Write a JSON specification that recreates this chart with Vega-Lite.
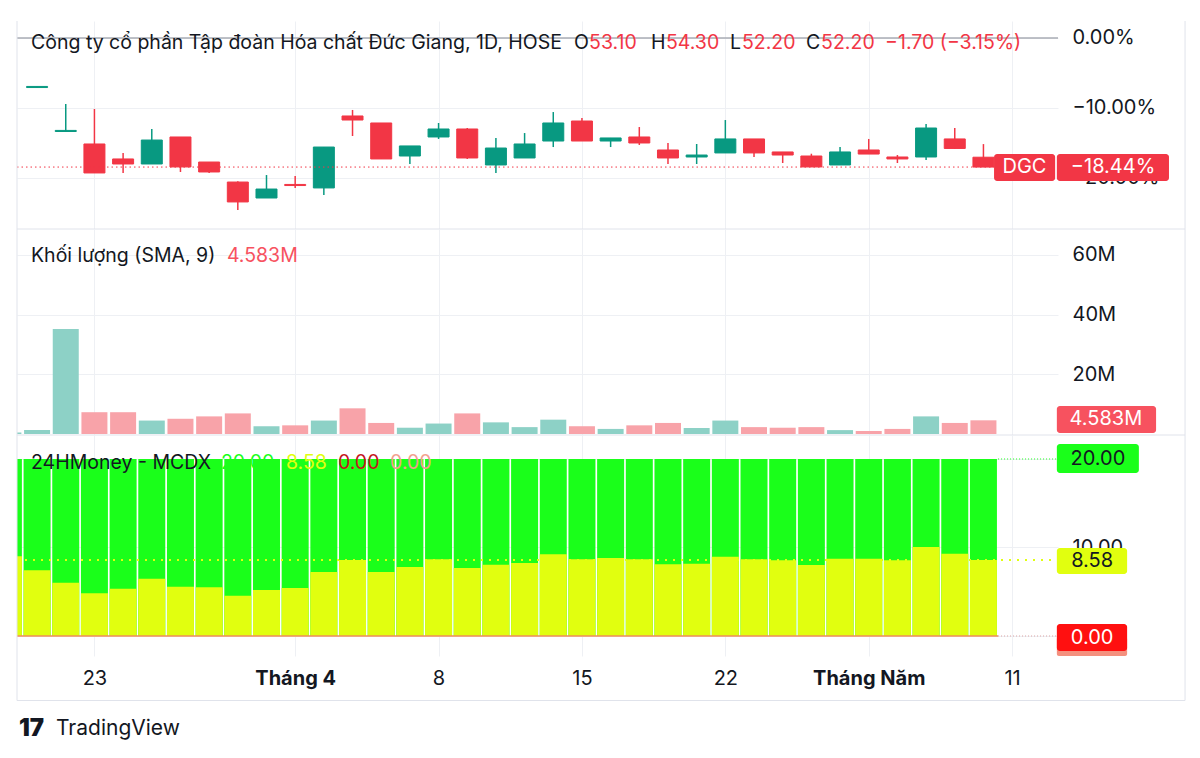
{
"$schema": "https://vega.github.io/schema/vega-lite/v6.json",
"padding": {"left": 16, "top": 20, "right": 10, "bottom": 10},
"background": "white",
"spacing": 0,
"bounds": "flush",
"config": {"view": {"stroke": null}, "font": "Inter", "axis": {"labelFont": "Inter", "labelColor": "#131722", "labelFontSize": 20, "gridColor": "#eef0f4", "gridWidth": 1, "domain": false, "ticks": false}, "text": {"font": "Inter"}},
"datasets": {"d": [
{"i": -1, "v": 0.5, "m": 9.0},
{"i": 0, "o": 59.47, "h": 59.57, "l": 59.47, "c": 59.57, "v": 1.3, "m": 7.42},
{"i": 1, "o": 55.45, "h": 57.97, "l": 55.45, "c": 55.55, "v": 35.2, "m": 6.03},
{"i": 2, "o": 54.31, "h": 57.51, "l": 51.66, "c": 51.66, "v": 7.3, "m": 4.82},
{"i": 3, "o": 52.94, "h": 53.49, "l": 51.66, "c": 52.48, "v": 7.3, "m": 5.35},
{"i": 4, "o": 52.48, "h": 55.68, "l": 52.48, "c": 54.67, "v": 4.5, "m": 6.48},
{"i": 5, "o": 54.95, "h": 54.95, "l": 51.75, "c": 52.21, "v": 5.1, "m": 5.57},
{"i": 6, "o": 52.66, "h": 52.66, "l": 51.66, "c": 51.75, "v": 5.9, "m": 5.5},
{"i": 7, "o": 50.83, "h": 50.9, "l": 48.27, "c": 49.01, "v": 6.9, "m": 4.56},
{"i": 8, "o": 49.37, "h": 51.47, "l": 49.37, "c": 50.19, "v": 2.6, "m": 5.2},
{"i": 9, "o": 50.61, "h": 51.38, "l": 50.29, "c": 50.51, "v": 2.9, "m": 5.42},
{"i": 10, "o": 50.29, "h": 54.03, "l": 49.65, "c": 54.03, "v": 4.5, "m": 7.23},
{"i": 11, "o": 56.87, "h": 57.42, "l": 55.04, "c": 56.5, "v": 8.6, "m": 8.59},
{"i": 12, "o": 56.23, "h": 56.23, "l": 52.94, "c": 52.94, "v": 3.7, "m": 7.23},
{"i": 13, "o": 53.21, "h": 54.13, "l": 52.48, "c": 54.13, "v": 2.1, "m": 7.8},
{"i": 14, "o": 54.95, "h": 56.23, "l": 54.77, "c": 55.68, "v": 3.5, "m": 8.66},
{"i": 15, "o": 55.68, "h": 55.77, "l": 52.94, "c": 53.03, "v": 6.9, "m": 7.68},
{"i": 16, "o": 52.39, "h": 54.86, "l": 51.66, "c": 53.94, "v": 3.9, "m": 8.06},
{"i": 17, "o": 53.03, "h": 55.31, "l": 53.03, "c": 54.31, "v": 2.3, "m": 8.25},
{"i": 18, "o": 54.58, "h": 57.23, "l": 54.03, "c": 56.23, "v": 4.8, "m": 9.23},
{"i": 19, "o": 56.41, "h": 56.69, "l": 54.58, "c": 54.58, "v": 2.6, "m": 8.66},
{"i": 20, "o": 54.58, "h": 54.86, "l": 54.03, "c": 54.86, "v": 1.7, "m": 8.81},
{"i": 21, "o": 54.95, "h": 55.86, "l": 54.22, "c": 54.4, "v": 2.9, "m": 8.66},
{"i": 22, "o": 53.76, "h": 54.4, "l": 52.48, "c": 53.03, "v": 3.7, "m": 8.1},
{"i": 23, "o": 53.12, "h": 54.31, "l": 52.48, "c": 53.3, "v": 2.0, "m": 8.17},
{"i": 24, "o": 53.49, "h": 56.5, "l": 53.49, "c": 54.77, "v": 4.5, "m": 8.96},
{"i": 25, "o": 54.77, "h": 54.77, "l": 53.12, "c": 53.49, "v": 2.3, "m": 8.66},
{"i": 26, "o": 53.58, "h": 53.58, "l": 52.57, "c": 53.3, "v": 2.1, "m": 8.55},
{"i": 27, "o": 53.21, "h": 53.42, "l": 52.21, "c": 52.21, "v": 2.3, "m": 8.02},
{"i": 28, "o": 52.39, "h": 54.03, "l": 52.39, "c": 53.58, "v": 1.3, "m": 8.74},
{"i": 29, "o": 53.76, "h": 54.77, "l": 53.39, "c": 53.39, "v": 1.0, "m": 8.74},
{"i": 30, "o": 53.12, "h": 53.3, "l": 52.57, "c": 52.94, "v": 1.7, "m": 8.55},
{"i": 31, "o": 53.12, "h": 56.14, "l": 52.85, "c": 55.77, "v": 5.9, "m": 10.06},
{"i": 32, "o": 54.77, "h": 55.77, "l": 53.85, "c": 53.9, "v": 3.7, "m": 9.3},
{"i": 33, "o": 53.1, "h": 54.3, "l": 52.2, "c": 52.2, "v": 4.583, "m": 8.58}
]},
"vconcat": [
{
"width": 1041, "height": 208,
"data": {"name": "d"},
"layer": [
{"data": {"values": [{}]}, "mark": {"type": "rule", "color": "#a9acb4", "strokeWidth": 1.5}, "encoding": {"y": {"datum": 64}}},
{"transform": [{"filter": "isValid(datum.o)"}],
 "mark": {"type": "rule", "strokeWidth": 1.5},
 "encoding": {
  "x": {"field": "i", "type": "quantitative", "scale": {"domain": [-0.7, 35.6], "nice": false, "zero": false, "padding": 0}, "axis": {"values": [2, 9, 14, 19, 24, 29, 34], "labels": false, "grid": true, "title": null}},
  "y": {"field": "l", "type": "quantitative", "scale": {"domain": [46.537, 65.554], "nice": false, "zero": false, "padding": 0}, "axis": {"orient": "right", "values": [64, 57.6, 51.2], "labelExpr": "replace(format((datum.value/64-1)*100, '.2f'), '-', '−') + '%'", "title": null, "grid": true, "labelPadding": 14}},
  "y2": {"field": "h"},
  "color": {"condition": {"test": "datum.c >= datum.o", "value": "#089981"}, "value": "#f23645"}
 }},
{"transform": [{"filter": "isValid(datum.o)"}],
 "mark": {"type": "bar", "size": 21, "strokeWidth": 1},
 "encoding": {
  "x": {"field": "i", "type": "quantitative"},
  "y": {"field": "o", "type": "quantitative"},
  "y2": {"field": "c"},
  "color": {"condition": {"test": "datum.c >= datum.o", "value": "#089981"}, "value": "#f23645"},
  "stroke": {"condition": {"test": "datum.c >= datum.o", "value": "#089981"}, "value": "#f23645"}
 }},
{"data": {"values": [{}]}, "mark": {"type": "rule", "color": "#f23645", "strokeWidth": 1, "strokeDash": [1.5, 3]}, "encoding": {"x": {"datum": -0.7}, "x2": {"datum": 33.37}, "y": {"datum": 52.2}}},
{"data": {"values": [{}]}, "mark": {"type": "rect", "color": "#f23645", "cornerRadius": 3}, "encoding": {"x": {"datum": 33.37}, "x2": {"datum": 35.5}, "y": {"datum": 53.394}, "y2": {"datum": 50.926}}},
{"data": {"values": [{}]}, "mark": {"type": "rect", "color": "#f23645", "cornerRadius": 3}, "encoding": {"x": {"datum": 35.56}, "x2": {"datum": 39.47}, "y": {"datum": 53.394}, "y2": {"datum": 50.926}}},
{"data": {"values": [{"t": "DGC"}]}, "mark": {"type": "text", "color": "white", "fontSize": 20, "align": "center", "baseline": "middle"}, "encoding": {"x": {"datum": 34.43}, "y": {"datum": 52.16}, "text": {"field": "t"}}},
{"data": {"values": [{"t": "−18.44%"}]}, "mark": {"type": "text", "color": "white", "fontSize": 20, "align": "center", "baseline": "middle"}, "encoding": {"x": {"datum": 37.52}, "y": {"datum": 52.16}, "text": {"field": "t"}}},
{"data": {"values": [{"t": "Công ty cổ phần Tập đoàn Hóa chất Đức Giang, 1D, HOSE"}]}, "mark": {"type": "text", "color": "#131722", "fontSize": 19.5, "align": "left", "baseline": "middle"}, "encoding": {"x": {"datum": -0.212}, "y": {"datum": 63.54}, "text": {"field": "t"}}},
{"data": {"values": [{"t": "O"}]}, "mark": {"type": "text", "color": "#131722", "fontSize": 19.5, "align": "left", "baseline": "middle"}, "encoding": {"x": {"datum": 18.72}, "y": {"datum": 63.54}, "text": {"field": "t"}}},
{"data": {"values": [{"t": "53.10"}]}, "mark": {"type": "text", "color": "#f23645", "fontSize": 19.5, "align": "left", "baseline": "middle"}, "encoding": {"x": {"datum": 19.25}, "y": {"datum": 63.54}, "text": {"field": "t"}}},
{"data": {"values": [{"t": "H"}]}, "mark": {"type": "text", "color": "#131722", "fontSize": 19.5, "align": "left", "baseline": "middle"}, "encoding": {"x": {"datum": 21.41}, "y": {"datum": 63.54}, "text": {"field": "t"}}},
{"data": {"values": [{"t": "54.30"}]}, "mark": {"type": "text", "color": "#f23645", "fontSize": 19.5, "align": "left", "baseline": "middle"}, "encoding": {"x": {"datum": 21.93}, "y": {"datum": 63.54}, "text": {"field": "t"}}},
{"data": {"values": [{"t": "L"}]}, "mark": {"type": "text", "color": "#131722", "fontSize": 19.5, "align": "left", "baseline": "middle"}, "encoding": {"x": {"datum": 24.16}, "y": {"datum": 63.54}, "text": {"field": "t"}}},
{"data": {"values": [{"t": "52.20"}]}, "mark": {"type": "text", "color": "#f23645", "fontSize": 19.5, "align": "left", "baseline": "middle"}, "encoding": {"x": {"datum": 24.58}, "y": {"datum": 63.54}, "text": {"field": "t"}}},
{"data": {"values": [{"t": "C"}]}, "mark": {"type": "text", "color": "#131722", "fontSize": 19.5, "align": "left", "baseline": "middle"}, "encoding": {"x": {"datum": 26.81}, "y": {"datum": 63.54}, "text": {"field": "t"}}},
{"data": {"values": [{"t": "52.20"}]}, "mark": {"type": "text", "color": "#f23645", "fontSize": 19.5, "align": "left", "baseline": "middle"}, "encoding": {"x": {"datum": 27.34}, "y": {"datum": 63.54}, "text": {"field": "t"}}},
{"data": {"values": [{"t": "−1.70 (−3.15%)"}]}, "mark": {"type": "text", "color": "#f23645", "fontSize": 19.5, "align": "left", "baseline": "middle"}, "encoding": {"x": {"datum": 29.57}, "y": {"datum": 63.54}, "text": {"field": "t"}}},
{"data": {"values": [{}]}, "mark": {"type": "rule", "color": "#e0e3eb", "strokeWidth": 1}, "encoding": {"x": {"datum": -0.7}, "y": {"datum": 46.537}, "y2": {"datum": 65.554}}},
{"data": {"values": [{}]}, "mark": {"type": "rule", "color": "#e0e3eb", "strokeWidth": 1}, "encoding": {"x": {"datum": 40.03}, "y": {"datum": 46.537}, "y2": {"datum": 65.554}}},
{"data": {"values": [{}]}, "mark": {"type": "rule", "color": "#e0e3eb", "strokeWidth": 1}, "encoding": {"x": {"datum": -0.7}, "x2": {"datum": 40.03}, "y": {"datum": 46.537}}}
]
},
{
"width": 1041, "height": 206,
"data": {"name": "d"},
"layer": [
{"mark": {"type": "bar", "size": 26, "clip": true},
 "encoding": {
  "x": {"field": "i", "type": "quantitative", "scale": {"domain": [-0.7, 35.6], "nice": false, "zero": false, "padding": 0}, "axis": {"values": [2, 9, 14, 19, 24, 29, 34], "labels": false, "grid": true, "title": null}},
  "y": {"field": "v", "type": "quantitative", "scale": {"domain": [-0.34, 68.71], "nice": false, "zero": false, "padding": 0}, "axis": {"orient": "right", "values": [20, 40, 60], "labelExpr": "datum.value + 'M'", "title": null, "grid": true, "labelPadding": 14}},
  "y2": {"datum": 0},
  "color": {"condition": {"test": "!(datum.c < datum.o)", "value": "#8dd1c6"}, "value": "#f8a3a9"}
 }},
{"data": {"values": [{}]}, "mark": {"type": "rect", "color": "#f7525f", "cornerRadius": 3}, "encoding": {"x": {"datum": 35.56}, "x2": {"datum": 39.02}, "y": {"datum": 9.39}, "y2": {"datum": 0.34}}},
{"data": {"values": [{"t": "4.583M"}]}, "mark": {"type": "text", "color": "white", "fontSize": 20, "align": "center", "baseline": "middle"}, "encoding": {"x": {"datum": 37.27}, "y": {"datum": 4.86}, "text": {"field": "t"}}},
{"data": {"values": [{"t": "Khối lượng (SMA, 9)"}]}, "mark": {"type": "text", "color": "#131722", "fontSize": 19.5, "align": "left", "baseline": "middle"}, "encoding": {"x": {"datum": -0.212}, "y": {"datum": 59.6}, "text": {"field": "t"}}},
{"data": {"values": [{"t": "4.583M"}]}, "mark": {"type": "text", "color": "#f7525f", "fontSize": 19.5, "align": "left", "baseline": "middle"}, "encoding": {"x": {"datum": 6.62}, "y": {"datum": 59.6}, "text": {"field": "t"}}},
{"data": {"values": [{}]}, "mark": {"type": "rule", "color": "#e0e3eb", "strokeWidth": 1}, "encoding": {"x": {"datum": -0.7}, "y": {"datum": -0.34}, "y2": {"datum": 68.71}}},
{"data": {"values": [{}]}, "mark": {"type": "rule", "color": "#e0e3eb", "strokeWidth": 1}, "encoding": {"x": {"datum": 40.03}, "y": {"datum": -0.34}, "y2": {"datum": 68.71}}},
{"data": {"values": [{}]}, "mark": {"type": "rule", "color": "#e0e3eb", "strokeWidth": 1}, "encoding": {"x": {"datum": -0.7}, "x2": {"datum": 40.03}, "y": {"datum": -0.34}}}
]
},
{
"width": 1041, "height": 221,
"data": {"name": "d"},
"layer": [
{"mark": {"type": "bar", "size": 27, "clip": true, "color": "#1aff1a"},
 "encoding": {
  "x": {"field": "i", "type": "quantitative", "scale": {"domain": [-0.7, 35.6], "nice": false, "zero": false, "padding": 0}, "axis": {"values": [2, 9, 14, 19, 24, 29, 34], "grid": true, "title": null, "labelPadding": 12, "labelExpr": "datum.value == 2 ? '23' : datum.value == 9 ? 'Tháng 4' : datum.value == 14 ? '8' : datum.value == 19 ? '15' : datum.value == 24 ? '22' : datum.value == 29 ? 'Tháng Năm' : '11'", "labelFontWeight": {"condition": {"test": "datum.value == 9 || datum.value == 29", "value": "bold"}, "value": "normal"}}},
  "y": {"datum": 20, "type": "quantitative", "scale": {"domain": [-2.26, 22.71], "nice": false, "zero": false, "padding": 0}, "axis": {"orient": "right", "values": [0, 10, 20], "labelExpr": "format(datum.value, '.2f')", "title": null, "grid": true, "labelPadding": 14}},
  "y2": {"datum": 0}
 }},
{"mark": {"type": "bar", "size": 27, "clip": true, "color": "#e1ff0f"},
 "encoding": {
  "x": {"field": "i", "type": "quantitative"},
  "y": {"field": "m", "type": "quantitative"},
  "y2": {"datum": 0}
 }},
{"data": {"values": [{}]}, "mark": {"type": "rule", "color": "#ef8f5a", "strokeWidth": 1.5}, "encoding": {"x": {"datum": -0.7}, "x2": {"datum": 33.51}, "y": {"datum": 0}}},
{"data": {"values": [{}]}, "mark": {"type": "rule", "color": "#d9a0a0", "strokeWidth": 1, "strokeDash": [1, 2]}, "encoding": {"x": {"datum": 33.51}, "x2": {"datum": 35.56}, "y": {"datum": 0}}},
{"data": {"values": [{}]}, "mark": {"type": "rule", "color": "#1aff1a", "strokeWidth": 1, "strokeDash": [1, 2]}, "encoding": {"x": {"datum": 33.51}, "x2": {"datum": 35.56}, "y": {"datum": 20}}},
{"data": {"values": [{}]}, "mark": {"type": "rule", "color": "#e1ff0f", "strokeWidth": 2, "strokeDash": [2, 6]}, "encoding": {"x": {"datum": -0.7}, "x2": {"datum": 35.56}, "y": {"datum": 8.58}}},
{"data": {"values": [{}]}, "mark": {"type": "rect", "color": "#f4907e", "cornerRadius": 2}, "encoding": {"x": {"datum": 35.56}, "x2": {"datum": 38.01}, "y": {"datum": -0.11}, "y2": {"datum": -2.26}}},
{"data": {"values": [{}]}, "mark": {"type": "rect", "color": "#ff1010", "cornerRadius": 3}, "encoding": {"x": {"datum": 35.56}, "x2": {"datum": 38.01}, "y": {"datum": 1.36}, "y2": {"datum": -1.69}}},
{"data": {"values": [{}]}, "mark": {"type": "rect", "color": "#e1ff0f", "cornerRadius": 3}, "encoding": {"x": {"datum": 35.56}, "x2": {"datum": 38.01}, "y": {"datum": 9.94}, "y2": {"datum": 7.01}}},
{"data": {"values": [{}]}, "mark": {"type": "rect", "color": "#1aff1a", "cornerRadius": 3}, "encoding": {"x": {"datum": 35.56}, "x2": {"datum": 38.42}, "y": {"datum": 21.69}, "y2": {"datum": 18.42}}},
{"data": {"values": [{"t": "0.00"}]}, "mark": {"type": "text", "color": "white", "fontSize": 20, "align": "center", "baseline": "middle"}, "encoding": {"x": {"datum": 36.79}, "y": {"datum": -0.17}, "text": {"field": "t"}}},
{"data": {"values": [{"t": "8.58"}]}, "mark": {"type": "text", "color": "#131722", "fontSize": 20, "align": "center", "baseline": "middle"}, "encoding": {"x": {"datum": 36.79}, "y": {"datum": 8.47}, "text": {"field": "t"}}},
{"data": {"values": [{"t": "20.00"}]}, "mark": {"type": "text", "color": "#131722", "fontSize": 20, "align": "center", "baseline": "middle"}, "encoding": {"x": {"datum": 36.99}, "y": {"datum": 20.0}, "text": {"field": "t"}}},
{"data": {"values": [{"t": "24HMoney - MCDX"}]}, "mark": {"type": "text", "color": "#131722", "fontSize": 19.5, "align": "left", "baseline": "middle"}, "encoding": {"x": {"datum": -0.212}, "y": {"datum": 19.49}, "text": {"field": "t"}}},
{"data": {"values": [{"t": "20.00"}]}, "mark": {"type": "text", "color": "#1aff1a", "fontSize": 19.5, "align": "left", "baseline": "middle"}, "encoding": {"x": {"datum": 6.41}, "y": {"datum": 19.49}, "text": {"field": "t"}}},
{"data": {"values": [{"t": "8.58"}]}, "mark": {"type": "text", "color": "#e1ff0f", "fontSize": 19.5, "align": "left", "baseline": "middle"}, "encoding": {"x": {"datum": 8.68}, "y": {"datum": 19.49}, "text": {"field": "t"}}},
{"data": {"values": [{"t": "0.00"}]}, "mark": {"type": "text", "color": "#c4161c", "fontSize": 19.5, "align": "left", "baseline": "middle"}, "encoding": {"x": {"datum": 10.49}, "y": {"datum": 19.49}, "text": {"field": "t"}}},
{"data": {"values": [{"t": "0.00"}]}, "mark": {"type": "text", "color": "#f2a08e", "fontSize": 19.5, "align": "left", "baseline": "middle"}, "encoding": {"x": {"datum": 12.31}, "y": {"datum": 19.49}, "text": {"field": "t"}}},
{"data": {"values": [{}]}, "mark": {"type": "rule", "color": "#e0e3eb", "strokeWidth": 1}, "encoding": {"x": {"datum": -0.7}, "y": {"datum": -7.29}, "y2": {"datum": 22.71}}},
{"data": {"values": [{}]}, "mark": {"type": "rule", "color": "#e0e3eb", "strokeWidth": 1}, "encoding": {"x": {"datum": 40.03}, "y": {"datum": -7.29}, "y2": {"datum": 22.71}}},
{"data": {"values": [{}]}, "mark": {"type": "rule", "color": "#e0e3eb", "strokeWidth": 1}, "encoding": {"x": {"datum": -0.7}, "x2": {"datum": 40.03}, "y": {"datum": -7.29}}},
{"data": {"values": [{"t": "17"}]}, "mark": {"type": "text", "color": "#131722", "fontSize": 24, "fontWeight": 900, "align": "left", "baseline": "middle"}, "encoding": {"x": {"datum": -0.63}, "y": {"datum": -10.56}, "text": {"field": "t"}}},
{"data": {"values": [{"t": "TradingView"}]}, "mark": {"type": "text", "color": "#131722", "fontSize": 21, "align": "left", "baseline": "middle"}, "encoding": {"x": {"datum": 0.66}, "y": {"datum": -10.56}, "text": {"field": "t"}}}
]
}
]
}
